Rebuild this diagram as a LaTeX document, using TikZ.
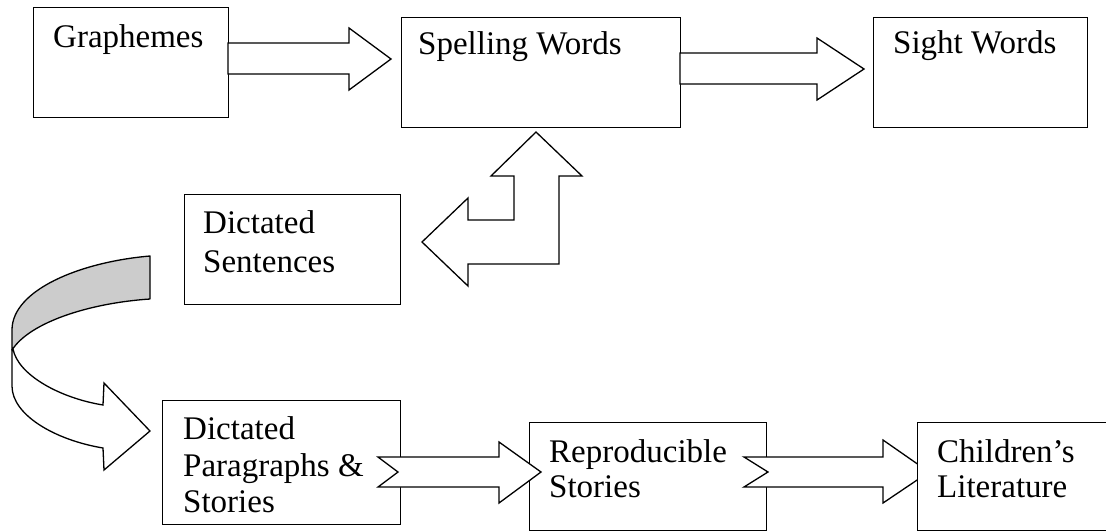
\documentclass[tikz,border=0pt]{standalone}
\usepackage{fontspec}
\setmainfont{Liberation Serif}
\begin{document}
\begin{tikzpicture}[x=1pt,y=-1pt,
  box/.style={draw=black,fill=white,line width=1.3pt,rectangle,inner sep=0pt,anchor=north west},
  blockarrow/.style={draw=black,fill=white,line width=1.3pt,line join=miter},
  txt/.style={anchor=base west,inner sep=0pt,font=\fontsize{33}{37}\selectfont}]
\useasboundingbox (0,0) rectangle (1106,531);
\clip (0,0) rectangle (1106,531);
% boxes
\node[box,minimum width=195pt,minimum height=110pt] (g) at (33,7) {};
\node[box,minimum width=279pt,minimum height=110pt] (sp) at (401,17) {};
\node[box,minimum width=214pt,minimum height=110pt] (si) at (873,17) {};
\node[box,minimum width=216pt,minimum height=110pt] (ds) at (184,194) {};
\node[box,minimum width=238pt,minimum height=124pt] (dp) at (162,400) {};
\node[box,minimum width=237pt,minimum height=108pt] (rs) at (529,422) {};
% top arrows
\draw[blockarrow] (228,43) -- (349,43) -- (349,28) -- (391,59) -- (349,90) -- (349,74) -- (228,74) -- cycle;
\draw[blockarrow] (680,53) -- (817,53) -- (817,38) -- (864,69) -- (817,100) -- (817,84) -- (680,84) -- cycle;
% bent double arrow
\draw[blockarrow] (536,132) -- (582,176) -- (559,176) -- (559,264) -- (468,264) -- (468,286) -- (422,242)
  -- (468,198) -- (468,220) -- (514,220) -- (514,176) -- (491,176) -- cycle;
% curved arrow
\draw[line width=1.3pt,fill={rgb,255:red,204;green,204;blue,204},line join=round]
  (150,256) .. controls (80,262) and (12,290) .. (12,330) -- (12,350)
  .. controls (30,322) and (90,303) .. (150,299) -- cycle;
\draw[line width=1.3pt,fill=white,line join=miter]
  (12,349) -- (12,386) .. controls (12,415) and (55,440) .. (103,448) -- (104,470) -- (150,431)
  -- (104,383) -- (103,405) .. controls (60,398) and (18,375) .. (13,349);
% bottom arrows
\draw[blockarrow] (378,457) -- (499,457) -- (499,442) -- (541,472) -- (499,503) -- (499,487) -- (378,487) -- (398,472) -- cycle;
\draw[blockarrow] (744,457) -- (883,457) -- (883,440) -- (929,472) -- (883,503) -- (883,487) -- (744,487) -- (768,472) -- cycle;
\node[box,minimum width=250pt,minimum height=108pt] (cl) at (917,422) {};
% texts
\node[txt] (tg) at (53,47) {Graphemes};
\node[txt] (tsp) at (418,54) {Spelling Words};
\node[txt] (tsi) at (893,53) {Sight Words};
\node[txt] (tds1) at (203,233) {Dictated};
\node[txt] (tds2) at (203,272) {Sentences};
\node[txt] (tdp1) at (183,439) {Dictated};
\node[txt] (tdp2) at (183,476) {Paragraphs \&};
\node[txt] (tdp3) at (183,512) {Stories};
\node[txt] (trs1) at (549,462) {Reproducible};
\node[txt] (trs2) at (549,497) {Stories};
\node[txt] (tcl1) at (937,462) {Children’s};
\node[txt] (tcl2) at (937,497) {Literature};
\end{tikzpicture}
\end{document}
